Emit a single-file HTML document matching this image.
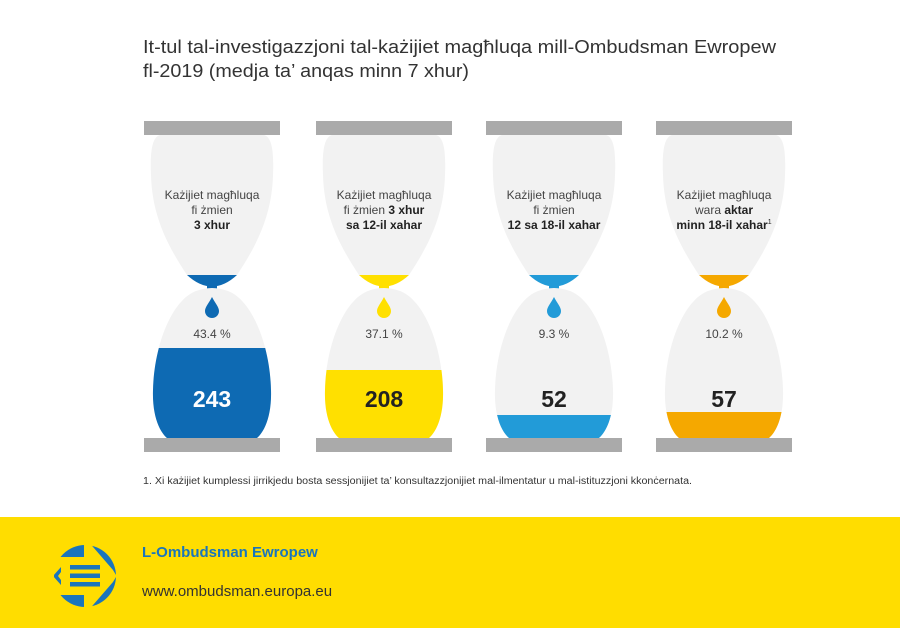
<!DOCTYPE html>
<html><head><meta charset="utf-8"><style>
html,body{margin:0;padding:0;background:#fff;}
svg{display:block;font-family:"Liberation Sans",sans-serif;}
</style></head><body>
<svg width="900" height="628" viewBox="0 0 900 628" xmlns="http://www.w3.org/2000/svg">
<defs>
<path id="top" d="M-52,135 C-60,137 -62,152 -61,175 C-60,215 -45,245 -25,275 Q0,298 25,275 C45,245 60,215 61,175 C62,152 60,137 52,135 Z"/>
<path id="bot" d="M-16,291 C-40,300 -58,345 -59,390 C-60,420 -50,436 -42,440 L42,440 C50,436 60,420 59,390 C58,345 40,300 16,291 Q0,285 -16,291 Z"/>
<path id="drop" d="M0,297 C-3,303 -7,307 -7,311 A7,7 0 0 0 7,311 C7,307 3,303 0,297 Z"/>
<clipPath id="capc"><rect x="-80" y="275" width="160" height="30"/></clipPath>
<clipPath id="logoc"><circle cx="85" cy="576" r="31"/></clipPath>
</defs>
<text x="143" y="53" font-size="18.5" fill="#333" textLength="633" lengthAdjust="spacingAndGlyphs">It-tul tal-investigazzjoni tal-każijiet magħluqa mill-Ombudsman Ewropew</text>
<text x="143" y="77" font-size="18.5" fill="#333" textLength="326" lengthAdjust="spacingAndGlyphs">fl-2019 (medja ta’ anqas minn 7 xhur)</text>

<g transform="translate(212,0)">
<clipPath id="f1"><rect x="-80" y="348" width="160" height="100"/></clipPath>
<use href="#top" fill="#f2f2f2"/><use href="#top" fill="#0e6ab3" clip-path="url(#capc)"/>
<rect x="-5" y="284" width="10" height="9" fill="#0e6ab3"/>
<use href="#bot" fill="#f2f2f2"/><use href="#bot" fill="#0e6ab3" clip-path="url(#f1)"/>
<use href="#drop" fill="#0e6ab3"/>
<rect x="-68" y="121" width="136" height="14" fill="#aaa"/><rect x="-68" y="438" width="136" height="14" fill="#aaa"/>
<text text-anchor="middle" font-size="12" fill="#444"><tspan x="0" y="199">Każijiet magħluqa</tspan><tspan x="0" y="214">fi żmien</tspan><tspan x="0" y="229" font-weight="bold" fill="#222">3 xhur</tspan></text>
<text x="0" y="338" text-anchor="middle" font-size="12" fill="#444">43.4 %</text>
<text x="0" y="407" text-anchor="middle" font-size="23" font-weight="bold" fill="#fff">243</text>
</g>
<g transform="translate(384,0)">
<clipPath id="f2"><rect x="-80" y="370" width="160" height="100"/></clipPath>
<use href="#top" fill="#f2f2f2"/><use href="#top" fill="#ffe000" clip-path="url(#capc)"/>
<rect x="-5" y="284" width="10" height="9" fill="#ffe000"/>
<use href="#bot" fill="#f2f2f2"/><use href="#bot" fill="#ffe000" clip-path="url(#f2)"/>
<use href="#drop" fill="#ffe000"/>
<rect x="-68" y="121" width="136" height="14" fill="#aaa"/><rect x="-68" y="438" width="136" height="14" fill="#aaa"/>
<text text-anchor="middle" font-size="12" fill="#444"><tspan x="0" y="199">Każijiet magħluqa</tspan><tspan x="0" y="214">fi żmien <tspan font-weight="bold" fill="#222">3 xhur</tspan></tspan><tspan x="0" y="229" font-weight="bold" fill="#222">sa 12-il xahar</tspan></text>
<text x="0" y="338" text-anchor="middle" font-size="12" fill="#444">37.1 %</text>
<text x="0" y="407" text-anchor="middle" font-size="23" font-weight="bold" fill="#222">208</text>
</g>
<g transform="translate(554,0)">
<clipPath id="f3"><rect x="-80" y="415" width="160" height="100"/></clipPath>
<use href="#top" fill="#f2f2f2"/><use href="#top" fill="#229bd8" clip-path="url(#capc)"/>
<rect x="-5" y="284" width="10" height="9" fill="#229bd8"/>
<use href="#bot" fill="#f2f2f2"/><use href="#bot" fill="#229bd8" clip-path="url(#f3)"/>
<use href="#drop" fill="#229bd8"/>
<rect x="-68" y="121" width="136" height="14" fill="#aaa"/><rect x="-68" y="438" width="136" height="14" fill="#aaa"/>
<text text-anchor="middle" font-size="12" fill="#444"><tspan x="0" y="199">Każijiet magħluqa</tspan><tspan x="0" y="214">fi żmien</tspan><tspan x="0" y="229" font-weight="bold" fill="#222">12 sa 18-il xahar</tspan></text>
<text x="0" y="338" text-anchor="middle" font-size="12" fill="#444">9.3 %</text>
<text x="0" y="407" text-anchor="middle" font-size="23" font-weight="bold" fill="#222">52</text>
</g>
<g transform="translate(724,0)">
<clipPath id="f4"><rect x="-80" y="412" width="160" height="100"/></clipPath>
<use href="#top" fill="#f2f2f2"/><use href="#top" fill="#f5a800" clip-path="url(#capc)"/>
<rect x="-5" y="284" width="10" height="9" fill="#f5a800"/>
<use href="#bot" fill="#f2f2f2"/><use href="#bot" fill="#f5a800" clip-path="url(#f4)"/>
<use href="#drop" fill="#f5a800"/>
<rect x="-68" y="121" width="136" height="14" fill="#aaa"/><rect x="-68" y="438" width="136" height="14" fill="#aaa"/>
<text text-anchor="middle" font-size="12" fill="#444"><tspan x="0" y="199">Każijiet magħluqa</tspan><tspan x="0" y="214">wara <tspan font-weight="bold" fill="#222">aktar</tspan></tspan><tspan x="0" y="229" font-weight="bold" fill="#222">minn 18-il xahar<tspan font-size="7" font-weight="normal" dy="-5">1</tspan></tspan></text>
<text x="0" y="338" text-anchor="middle" font-size="12" fill="#444">10.2 %</text>
<text x="0" y="407" text-anchor="middle" font-size="23" font-weight="bold" fill="#222">57</text>
</g>

<text x="143" y="484" font-size="10" fill="#333" textLength="549" lengthAdjust="spacingAndGlyphs">1.  Xi każijiet kumplessi jirrikjedu bosta sessjonijiet ta’ konsultazzjonijiet mal-ilmentatur u mal-istituzzjoni kkonċernata.</text>

<rect x="0" y="517" width="900" height="111" fill="#ffdd00"/>
<g clip-path="url(#logoc)" fill="#1a75bc">
<rect x="50" y="540" width="34" height="17"/>
<polygon points="87,540 125,540 125,590 113,570"/>
<rect x="50" y="595" width="34" height="17"/>
<polygon points="87,612 125,612 125,562 113,582"/>
<polygon points="61,567 53,576 61,585 61,580 58,576 61,572"/>
<rect x="70" y="565" width="30" height="4.5"/>
<rect x="70" y="573.5" width="30" height="4.5"/>
<rect x="70" y="582" width="30" height="4.5"/>
</g>
<text x="142" y="557" font-size="15" font-weight="bold" fill="#1a75bc">L-Ombudsman Ewropew</text>
<text x="142" y="596" font-size="15" fill="#333">www.ombudsman.europa.eu</text>
</svg>
</body></html>
